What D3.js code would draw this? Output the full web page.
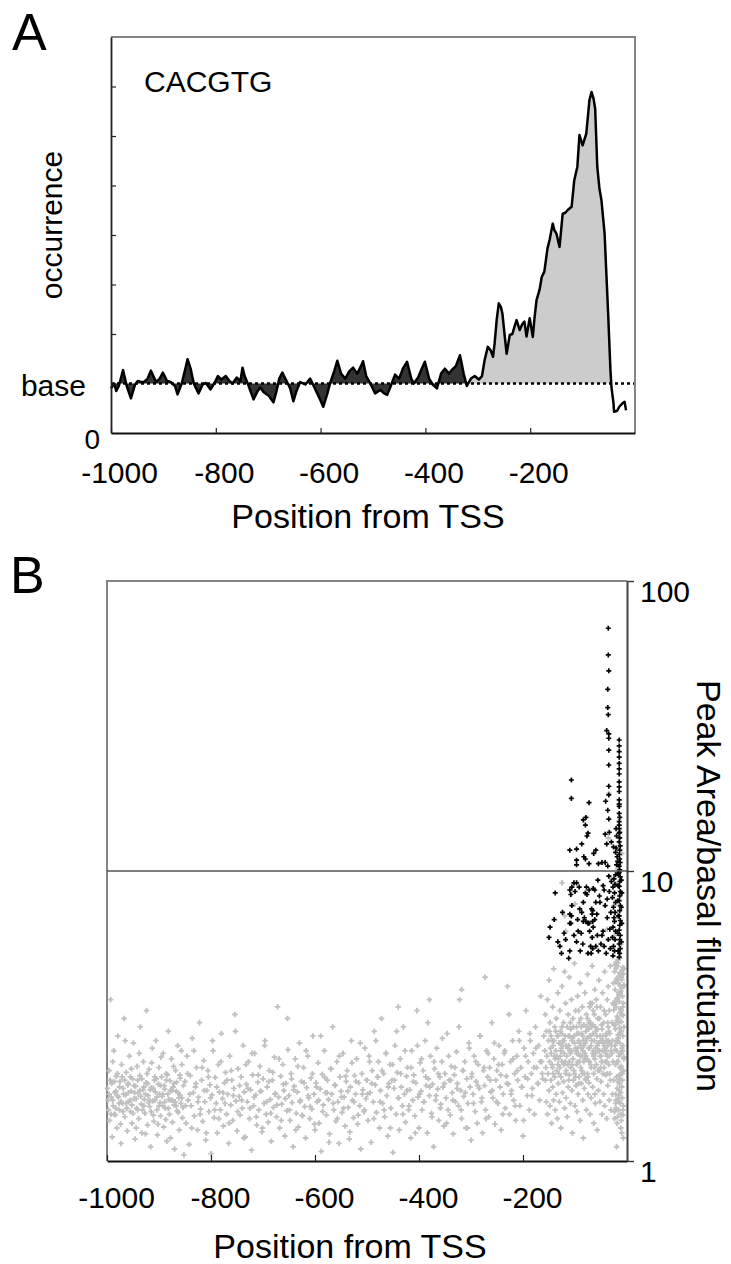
<!DOCTYPE html>
<html><head><meta charset="utf-8">
<script src="https://cdn.jsdelivr.net/npm/d3@7"></script>
<style>body{margin:0;background:#fff}svg{display:block}</style>
</head><body><svg id="c" width="731" height="1264"></svg>
<script>
// ---------- DATA ----------
const posTicks = [-1000, -800, -600, -400, -200];
const occTicks = [1, 2, 3, 4, 5, 6, 7];
const ratioTicks = [1, 10, 100];
const baseLevel = 1;
const splitPos = -321; // start of the promoter peak region
// Panel A: occurrence profile [position, occurrence (in base units)]
const profileA = [[-1000,0.9],[-994,1.0],[-990,0.85],[-985,0.95],[-977,1.27],[-970,0.95],[-962,0.7],[-954,0.98],[-949,1.05],[-943,1.03],[-937,1.03],[-930,1.1],[-924,1.26],[-914,1.03],[-907,1.1],[-901,1.22],[-893,1.05],[-886,1.03],[-878,0.95],[-873,0.78],[-865,1.0],[-857,1.35],[-854,1.49],[-848,1.3],[-842,1.0],[-833,0.8],[-825,0.98],[-819,1.01],[-810,0.88],[-802,1.02],[-796,1.15],[-789,1.08],[-781,1.15],[-774,1.05],[-768,1.0],[-760,1.12],[-753,1.05],[-749,1.32],[-745,1.15],[-739,1.0],[-734,0.85],[-728,0.68],[-720,0.85],[-715,0.92],[-709,0.83],[-699,0.75],[-690,0.62],[-684,0.85],[-679,1.1],[-673,1.22],[-665,1.05],[-658,0.9],[-652,0.64],[-646,0.85],[-639,1.03],[-629,0.98],[-620,1.1],[-610,0.88],[-602,0.7],[-595,0.53],[-587,0.8],[-582,1.0],[-574,1.25],[-568,1.46],[-561,1.2],[-553,1.1],[-545,1.25],[-538,1.32],[-530,1.2],[-523,1.35],[-519,1.45],[-513,1.15],[-505,1.0],[-496,0.8],[-486,0.87],[-479,0.8],[-473,0.77],[-466,0.95],[-458,1.18],[-450,1.1],[-443,1.3],[-435,1.44],[-427,1.1],[-422,1.0],[-414,1.12],[-407,1.3],[-401,1.44],[-393,1.1],[-386,0.98],[-378,0.9],[-370,1.2],[-363,1.3],[-355,1.2],[-350,1.27],[-342,1.35],[-334,1.57],[-327,1.2],[-321,0.95],[-313,1.1],[-306,1.15],[-298,1.08],[-292,1.15],[-287,1.47],[-281,1.74],[-275,1.66],[-271,1.54],[-268,1.8],[-264,2.28],[-260,2.62],[-256,2.55],[-253,2.41],[-249,2.0],[-245,1.6],[-239,1.98],[-234,2.0],[-230,2.15],[-226,2.28],[-220,2.08],[-215,2.2],[-211,2.25],[-207,1.95],[-201,2.32],[-195,1.94],[-192,2.3],[-188,2.68],[-182,2.9],[-178,3.15],[-173,3.26],[-167,3.73],[-163,3.9],[-157,4.23],[-154,4.1],[-150,4.03],[-144,3.76],[-138,4.43],[-133,4.45],[-129,4.5],[-121,4.57],[-116,5.1],[-110,5.38],[-106,6.02],[-100,5.81],[-93,6.05],[-87,6.72],[-83,6.89],[-79,6.75],[-76,6.55],[-72,5.38],[-68,4.95],[-64,4.7],[-58,4.03],[-55,3.3],[-51,2.35],[-47,1.3],[-45,0.93],[-41,0.6],[-40,0.43],[-34,0.45],[-30,0.53],[-24,0.6],[-20,0.63],[-17,0.46]];

// Panel B: [position, peak area / basal fluctuation]
const grayUpstream = [[-998,1.62],[-996,2.05],[-995,1.38],[-993,3.6],[-991,1.85],[-990,1.21],[-988,1.55],[-987,2.4],[-985,1.72],[-984,1.44],[-982,1.96],[-981,1.3],[-979,2.7],[-978,1.66],[-976,1.5],[-975,1.88],[-973,1.15],[-972,2.15],[-970,1.58],[-969,1.78],[-967,3.1],[-966,1.42],[-964,1.69],[-963,2.02],[-961,1.27],[-960,1.83],[-958,1.6],[-957,2.3],[-955,1.48],[-954,1.74],[-952,1.35],[-951,1.92],[-949,2.55],[-948,1.64],[-946,1.19],[-945,1.81],[-943,1.52],[-942,2.12],[-940,1.71],[-939,1.4],[-937,1.97],[-936,2.9],[-934,1.57],[-933,1.25],[-931,1.76],[-930,2.2],[-928,1.63],[-927,1.46],[-925,1.86],[-924,3.3],[-922,1.33],[-921,1.68],[-919,2.07],[-918,1.54],[-916,1.12],[-915,1.79],[-913,2.45],[-912,1.61],[-910,1.37],[-909,1.9],[-907,1.73],[-906,2.6],[-904,1.5],[-903,1.23],[-901,1.84],[-900,2.1],[-898,1.59],[-897,1.43],[-895,1.95],[-894,1.67],[-892,2.35],[-891,1.31],[-889,1.77],[-888,1.52],[-886,2.0],[-885,1.17],[-883,1.7],[-882,2.8],[-880,1.45],[-879,1.89],[-877,1.62],[-876,2.25],[-874,1.36],[-873,1.8],[-871,1.56],[-870,1.1],[-868,2.05],[-867,1.74],[-865,1.49],[-864,2.5],[-862,1.65],[-861,1.28],[-859,1.93],[-858,1.58],[-856,2.15],[-855,1.41],[-853,1.82],[-852,1.05],
[-999,1.78],[-997,1.5],[-994,1.9],[-992,1.66],[-989,2.2],[-986,1.45],[-983,1.74],[-980,2.0],[-977,1.58],[-974,1.34],[-971,1.95],[-968,1.7],[-965,2.6],[-962,1.52],[-959,1.85],[-956,1.62],[-953,2.08],[-950,1.46],[-947,1.72],[-944,1.3],[-941,1.9],[-938,2.35],[-935,1.67],[-932,1.5],[-929,1.8],[-926,1.24],[-923,2.0],[-920,1.59],[-917,1.76],[-914,2.18],[-911,1.44],[-908,1.62],[-905,1.92],[-902,1.34],[-899,1.7],[-896,2.28],[-893,1.55],[-890,1.82],[-887,1.39],[-884,1.98],[-881,1.63],[-878,1.2],[-875,1.75],[-872,2.12],[-869,1.6],[-866,1.87],[-863,1.47],[-860,1.69],[-857,2.4],[-854,1.53],
[-996,1.7],[-992,1.45],[-989,1.62],[-986,1.88],[-983,1.52],[-980,1.68],[-976,1.8],[-973,1.6],[-969,1.48],[-966,1.9],[-963,1.58],[-959,1.72],[-955,1.95],[-952,1.56],[-948,1.82],[-944,1.64],[-941,1.5],[-937,1.75],[-933,1.92],[-929,1.55],[-926,1.7],[-922,1.85],[-918,1.62],[-915,1.48],[-911,1.78],[-908,1.95],[-904,1.66],[-900,1.55],[-897,1.82],[-893,1.7],[-889,1.6],[-886,1.9],[-882,1.52],[-878,1.75],[-874,1.62],[-871,1.85],[-867,1.55],[-863,1.72],[-860,1.98],[-856,1.65],
[-850,1.88],[-848,1.35],[-846,2.3],[-844,1.62],[-842,1.14],[-840,1.97],[-838,1.55],[-836,2.65],[-834,1.72],[-832,1.43],[-830,1.8],[-828,2.1],[-826,1.28],[-824,1.66],[-822,3.0],[-820,1.51],[-818,1.9],[-816,1.37],[-814,2.22],[-812,1.6],[-810,1.18],[-808,1.75],[-806,2.05],[-804,1.48],[-802,1.83],[-800,1.06],[-798,1.69],[-796,2.4],[-794,1.41],[-792,1.94],[-790,1.58],[-788,1.25],[-786,2.15],[-784,1.73],[-782,1.5],[-780,2.75],[-778,1.64],[-776,1.32],[-774,1.86],[-772,2.02],[-770,1.45],[-768,1.7],[-766,1.15],[-764,2.3],[-762,1.56],[-760,1.9],[-758,1.38],[-756,1.78],[-754,3.2],[-752,1.61],[-750,1.27],[-748,2.08],[-746,1.67],[-744,1.44],[-742,1.95],[-740,1.52],[-738,2.5],[-736,1.73],[-734,1.21],[-732,1.84],[-730,1.6],[-728,2.2],[-726,1.4],[-724,1.76],[-722,1.09],[-720,1.98],[-718,1.55],[-716,2.35],[-714,1.69],[-712,1.33],[-710,1.87],[-708,1.5],[-706,2.12],[-704,1.74],[-702,1.26],[-700,1.92],[-698,1.58],[-696,2.6],[-694,1.45],[-692,1.8],[-690,1.36],[-688,2.05],[-686,1.63],[-684,1.17],[-682,1.9],[-680,1.53],[-678,2.28],[-676,1.71],[-674,1.42],[-672,3.4],[-670,1.66],[-668,1.3],[-666,1.96],[-664,1.57],[-662,2.15],[-660,1.75],[-658,1.22],[-656,1.85],[-654,1.49],[-652,2.42],[-650,1.68],[-648,1.38],[-646,2.0],[-644,1.59],[-642,1.12],[-640,1.81],[-638,2.25],[-636,1.46],[-634,1.73],[-632,1.31],[-630,2.55],[-628,1.62],[-626,1.88],[-624,1.43],[-622,2.1],[-620,1.54],[-618,1.2],[-616,1.79],[-614,2.3],[-612,1.65],[-610,1.4],[-608,1.93],[-606,1.51],[-604,2.7],[-602,1.7],[-600,1.28],[-598,1.86],[-596,1.6],[-594,2.18],[-592,1.35],[-590,1.77],[-588,1.08],[-586,1.99],[-584,1.56],[-582,2.4],[-580,1.72],[-578,1.44],[-576,1.9],[-574,1.63],[-572,1.24],[-570,2.08],[-568,1.7],[-566,2.9],[-564,1.5],[-562,1.83],[-560,1.37],[-558,2.2],[-556,1.6],[-554,1.15],[-552,1.95],[-550,1.74],[-548,1.47],[-546,2.35],[-544,1.66],[-542,1.32],[-540,1.88],[-538,2.05],[-536,1.53],[-534,1.19],[-532,1.8],[-530,2.6],[-528,1.62],[-526,1.41],[-524,1.97],[-522,1.7],[-520,2.25],[-518,1.34],[-516,1.86],[-514,1.55],[-512,1.1],[-510,2.0],[-508,1.76],[-506,1.48],[-504,2.45],[-502,1.64],
[-849,1.55],[-845,2.0],[-841,1.7],[-837,1.3],[-833,2.4],[-829,1.85],[-825,1.6],[-821,1.45],[-817,2.1],[-813,1.75],[-809,1.25],[-805,1.95],[-801,1.65],[-797,2.6],[-793,1.5],[-789,1.8],[-785,1.4],[-781,2.2],[-777,1.72],[-773,1.58],[-769,1.9],[-765,1.35],[-761,2.05],[-757,1.68],[-753,2.8],[-749,1.48],[-745,1.82],[-741,1.62],[-737,1.2],[-733,2.15],[-729,1.78],[-725,1.52],[-721,2.35],[-717,1.66],[-713,1.42],[-709,1.98],[-705,1.74],[-701,1.3],[-697,2.5],[-693,1.6],[-689,1.88],[-685,1.46],[-681,2.02],[-677,1.7],[-673,1.56],[-669,2.25],[-665,1.38],[-661,1.84],[-657,1.64],[-653,3.1],[-649,1.5],[-645,1.92],[-641,1.76],[-637,1.28],[-633,2.12],[-629,1.6],[-625,1.44],[-621,1.86],[-617,2.4],[-613,1.68],[-609,1.54],[-605,2.0],[-601,1.34],[-597,1.8],[-593,1.62],[-589,2.7],[-585,1.48],[-581,1.94],[-577,1.72],[-573,1.16],[-569,2.08],[-565,1.58],[-561,1.82],[-557,1.4],[-553,2.3],[-549,1.66],[-545,1.52],[-541,1.96],[-537,1.74],[-533,1.26],[-529,2.18],[-525,1.6],[-521,1.88],[-517,1.44],[-513,2.55],[-509,1.7],[-505,1.5],[-501,1.9]];

const grayMiddle = [[-500,1.9],[-498,1.38],[-496,2.3],[-494,1.72],[-492,1.16],[-490,2.05],[-488,1.6],[-486,2.8],[-484,1.83],[-482,1.47],[-480,1.95],[-478,2.2],[-476,1.3],[-474,1.75],[-472,3.1],[-470,1.58],[-468,2.0],[-466,1.42],[-464,2.35],[-462,1.68],[-460,1.22],[-458,1.85],[-456,2.15],[-454,1.52],[-452,1.9],[-450,1.07],[-448,1.78],[-446,2.5],[-444,1.45],[-442,2.02],[-440,1.65],[-438,1.28],[-436,2.25],[-434,1.8],[-432,1.55],[-430,2.9],[-428,1.7],[-426,1.36],[-424,1.96],[-422,2.1],[-420,1.5],[-418,1.76],[-416,1.2],[-414,2.4],[-412,1.62],[-410,1.98],[-408,1.43],[-406,1.86],[-404,3.3],[-402,1.66],[-400,1.3],[-398,2.18],[-396,1.74],[-394,1.5],[-392,2.05],[-390,1.6],[-388,2.6],[-386,1.82],[-384,1.25],[-382,1.92],[-380,1.68],[-378,2.3],[-376,1.46],[-374,1.84],[-372,1.12],[-370,2.08],[-368,1.62],[-366,2.45],[-364,1.77],[-362,1.38],[-360,1.95],[-358,1.57],[-356,2.2],[-354,1.8],[-352,1.32],[-350,2.0],[-348,1.65],[-346,2.75],[-344,1.5],[-342,1.9],[-340,1.44],[-338,2.12],[-336,1.72],[-334,1.24],[-332,1.98],[-330,1.6],[-328,2.38],[-326,1.85],[-324,1.55],[-322,3.6],[-320,1.75],[-318,1.4],[-316,2.05],[-314,1.67],[-312,2.2],[-310,1.3],[-308,1.92],[-306,1.58],[-304,2.55],[-302,1.8],[-300,1.18],[-298,2.0],[-296,1.7],[-294,2.3],[-292,1.48],[-290,1.88],[-288,1.35],[-286,2.15],[-284,1.78],[-282,2.7],[-280,1.6],[-278,1.25],[-276,2.05],[-274,1.82],[-272,1.5],[-270,2.4],[-268,1.95],[-266,1.42],[-264,2.1],[-262,1.73],[-260,3.0],[-258,1.65],[-256,2.25],[-254,1.34],[-252,1.9],[-250,2.05],[-248,1.58],[-246,2.5],[-244,1.8],[-242,1.28],[-240,2.15],[-238,1.7],[-236,2.35],[-234,1.52],[-232,1.96],[-230,4.0],[-228,1.84],[-226,1.45],[-224,2.2],[-222,1.75],[-220,2.6],[-218,1.62],[-216,2.0],[-214,1.38],[-212,2.3],[-210,1.9],[-208,2.8],[-206,1.55],[-204,2.1],[-202,1.8],[-200,1.22],[-198,2.45],[-196,1.95],[-194,3.3],[-192,1.68],[-190,2.2],[-188,1.5],[-186,2.6],[-184,2.0],[-182,1.78],[-180,2.35],[-178,1.45],[-176,2.9],[-174,2.1],[-172,1.85],[-170,2.5],[-168,1.62],[-166,3.7],[-164,2.2],[-162,1.92],[-160,2.7],[-273,4.3],[-318,3.9],[-380,3.6],[-440,3.4],
[-499,1.7],[-495,2.2],[-491,1.85],[-487,1.4],[-483,2.6],[-479,1.95],[-475,1.6],[-471,2.05],[-467,1.5],[-463,2.35],[-459,1.8],[-455,1.3],[-451,2.15],[-447,1.9],[-443,2.8],[-439,1.65],[-435,2.0],[-431,1.45],[-427,2.4],[-423,1.75],[-419,1.55],[-415,2.1],[-411,1.88],[-407,1.25],[-403,2.5],[-399,1.7],[-395,2.25],[-391,1.6],[-387,1.95],[-383,3.0],[-379,1.8],[-375,1.42],[-371,2.2],[-367,1.68],[-363,2.0],[-359,1.52],[-355,2.65],[-351,1.85],[-347,1.35],[-343,2.3],[-339,1.9],[-335,1.62],[-331,2.1],[-327,1.78],[-323,2.9],[-319,1.5],[-315,2.05],[-311,1.72],[-307,1.3],[-303,2.45],[-299,1.95],[-295,1.58],[-291,2.2],[-287,1.82],[-283,2.7],[-279,1.65],[-275,2.1],[-271,1.4],[-267,2.35],[-263,1.9],[-259,1.75],[-255,2.55],[-251,1.6],[-247,2.15],[-243,1.98],[-239,1.45],[-235,2.4],[-231,1.85],[-227,3.2],[-223,1.7],[-219,2.25],[-215,1.55],[-211,2.05],[-207,2.6],[-203,1.8],[-199,1.38],[-195,2.3],[-191,1.92],[-187,2.75],[-183,1.68],[-179,2.1],[-175,2.45],[-171,1.85],[-167,2.2],[-163,2.0]];

const grayProximal = [[-158,2.4],[-157,1.9],[-157,3.2],[-156,2.1],[-155,1.6],[-155,2.8],[-154,2.3],[-153,1.45],[-153,3.6],[-152,2.0],[-151,2.6],[-150,1.75],[-150,4.2],[-149,2.2],[-148,1.55],[-148,3.0],[-147,2.45],[-146,1.9],[-146,2.7],[-145,1.35],[-144,2.15],[-143,3.4],[-143,1.8],[-142,2.5],[-141,1.62],[-141,4.6],[-140,2.3],[-139,1.95],[-139,2.9],[-138,1.5],[-137,2.4],[-136,3.1],[-136,1.7],[-135,2.05],[-134,2.7],[-134,1.4],[-133,3.8],[-132,2.25],[-132,1.85],[-131,2.55],[-130,1.6],[-129,3.3],[-129,2.1],[-128,2.8],[-127,1.95],[-127,1.3],[-126,2.45],[-125,4.0],[-125,2.2],[-124,1.72],[-123,2.6],[-122,3.0],[-122,1.88],[-121,2.35],[-120,1.52],[-120,4.5],[-119,2.7],[-118,2.0],[-118,3.5],[-117,1.65],[-116,2.3],[-115,2.9],[-115,1.42],[-114,2.15],[-113,3.2],[-113,1.8],[-112,2.5],[-111,1.98],[-111,4.3],[-110,2.4],[-109,1.58],[-108,2.85],[-108,2.1],[-107,3.6],[-106,1.75],[-106,2.6],[-105,1.25],[-104,2.25],[-104,3.1],[-103,1.9],[-102,2.7],[-101,2.0],[-101,4.8],[-100,1.55],[-99,2.45],[-99,3.3],[-98,1.82],[-97,2.9],[-97,2.15],[-96,1.48],[-95,3.7],[-94,2.35],[-94,1.7],[-93,2.6],[-92,1.95],[-92,3.0],[-91,2.2],[-90,1.38],[-90,4.1],[-89,2.5],[-88,1.85],[-87,2.75],[-87,2.05],[-86,3.4],[-85,1.62],[-85,2.4],[-84,1.2],[-83,2.95],[-83,2.2],[-82,1.78],[-81,3.8],[-80,2.55],[-80,1.92],[-79,2.3],[-78,1.5],[-78,3.2],[-77,2.65],[-76,2.0],[-76,4.4],[-75,1.7],[-74,2.45],[-73,3.0],[-73,1.86],[-72,2.2],[-71,1.45],[-71,3.5],[-70,2.7],[-69,2.1],[-69,1.65],[-68,2.9],[-67,4.7],[-66,2.35],[-66,1.8],[-65,3.3],[-64,2.0],[-64,1.35],[-63,2.6],[-62,3.9],[-62,2.25],[-61,1.58],[-60,2.8],[-59,2.15],[-59,3.6],[-58,1.92],[-57,2.5],[-57,1.28],[-56,3.1],[-55,2.4],[-55,1.75],[-54,4.2],[-53,2.05],[-52,2.7],[-52,1.6],[-51,3.4],[-50,2.3],[-50,1.88],[-49,2.95],[-48,1.45],[-48,2.2],[-47,3.8],[-46,2.6],[-45,1.7],[-45,3.0],[-44,2.1],[-43,4.5],[-43,1.55],[-42,2.45],[-41,3.2],[-41,1.98],[-40,2.75],[-39,1.4],[-38,3.6],[-38,2.3],[-37,1.82],[-36,2.9],[-36,4.0],[-35,2.15],[-34,1.62],[-34,3.3],[-33,2.55],[-32,1.9],[-32,4.7],[-31,2.4],[-31,1.5],
[-140,2.6],[-135,2.3],[-131,2.0],[-126,2.75],[-121,2.15],[-117,2.5],[-112,1.9],[-109,2.35],[-105,2.65],[-102,2.05],[-98,2.4],[-95,2.2],[-93,1.85],[-91,2.55],[-89,2.1],[-86,2.3],[-84,2.6],[-82,2.0],[-79,2.8],[-77,2.25],[-75,1.95],[-73,2.45],[-70,2.15],[-68,2.6],[-66,2.95],[-64,2.3],[-62,1.7],[-60,2.45],[-58,2.7],[-56,2.05],[-54,2.55],[-52,2.3],[-50,2.6],[-48,2.85],[-46,2.0],[-44,2.5],[-42,2.2],[-40,2.4],[-38,2.0],[-36,2.6],[-34,2.3],[-33,2.0],[-35,2.8],[-37,2.5],[-39,2.2],[-41,2.7],[-44,3.3],[-47,2.4],[-51,2.1],[-53,3.1],[-56,2.55],[-58,3.4],[-61,2.9],[-63,3.2],[-65,2.4],[-67,3.5],[-70,3.0],[-72,3.4],[-74,2.85],[-76,3.1],[-79,1.9],[-81,2.25],[-83,2.5],[-86,2.0],[-88,2.9],[-90,2.3],[-93,3.3],[-96,2.75],[-99,1.95],[-103,2.9],[-107,2.4],[-110,2.7],[-114,2.45],[-119,2.2],[-124,2.5],[-128,2.3],[-133,2.7],[-138,2.25],[-144,2.6],[-149,2.8],
[-146,2.35],[-142,2.0],[-137,2.8],[-133,2.15],[-129,2.55],[-125,2.9],[-121,2.6],[-117,2.05],[-113,2.7],[-109,3.0],[-105,2.15],[-101,2.55],[-97,2.35],[-93,2.75],[-89,3.1],[-85,2.7],[-81,2.35],[-77,2.9],[-73,2.2],[-69,2.5],[-65,2.75],[-61,2.35],[-57,2.85],[-53,2.4],[-49,2.2],[-45,2.55],[-41,2.35],[-37,3.0],[-33,2.75],[-30,2.5],[-143,2.1],[-127,2.4],[-111,2.2],[-95,2.45],[-79,2.6],[-63,2.1],[-47,2.7],[-39,2.6],[-88,2.45],[-72,2.7]];

const grayEdge = [[-24,1.4],[-21,1.52],[-18,1.63],[-15,1.75],[-12,1.45],[-9,1.9],[-7,2.05],[-22,1.58],[-19,2.2],[-16,1.68],[-13,2.35],[-10,1.8],[-8,2.5],[-20,1.95],[-17,2.65],[-14,2.1],[-11,2.8],[-6,2.25],[-23,2.95],[-20,2.4],[-17,3.1],[-14,2.55],[-11,3.3],[-8,2.7],[-25,3.45],[-22,2.85],[-19,3.6],[-16,3.0],[-13,3.8],[-10,3.2],[-7,4.0],[-21,3.4],[-18,4.2],[-15,3.55],[-12,4.4],[-9,3.7],[-6,4.6],[-23,3.9],[-20,4.8],[-17,4.1],[-14,5.0],[-11,4.3],[-8,1.5],[-24,4.5],[-21,1.62],[-18,4.7],[-15,1.85],[-12,1.72],[-9,2.0],[-7,1.55],[-22,2.15],[-19,1.78],[-16,2.3],[-13,1.92],[-10,2.45],[-8,2.05],[-20,2.6],[-17,2.2],[-14,2.75],[-11,2.35],[-6,2.9],[-23,2.5],[-20,3.05],[-17,2.65],[-14,3.25],[-11,2.8],[-8,3.4],[-25,2.95],[-22,3.55],[-19,3.15],[-16,3.75],[-13,3.35],[-10,3.95],[-7,3.5],[-21,4.15],[-18,3.65],[-15,4.35],[-12,3.85],[-9,4.55],[-6,4.05],[-23,4.75],[-20,4.25],[-17,4.95],[-14,4.45],[-11,1.38],[-8,4.65],[-24,1.48],[-21,4.85],[-18,1.42],[-15,1.6],[-12,1.3],[-9,1.65],[-7,1.2],[-22,1.7],[-19,1.35],[-16,1.5],[-13,1.58],[-10,1.25],[-8,1.44],[-20,1.12],[-17,1.88],[-14,1.98],[-11,2.12],[-6,2.28],[-23,2.42],[-20,2.58],[-17,2.72],[-14,2.88],[-11,3.02],[-8,3.18],[-25,3.32],[-22,3.48],[-19,3.62],[-16,3.82],[-13,4.02],[-10,4.22],[-7,4.42],[-21,4.62],[-18,4.82],[-15,5.02],[-12,2.0],[-9,2.4],[-27,2.2],[-28,2.6],[-26,1.9],[-29,3.0],[-27,3.5],[-26,4.1],[-28,1.7],[-29,2.35],
[-35,18.5],[-32,9.5],[-18,10.2],[-20,9.0],[-13,8.3],[-25,7.6],[-10,11.5],[-38,6.3],[-125,9.1],[-120,7.0],[-118,6.2],[-100,7.7],[-36,13.0],[-24,6.0],[-12,5.6]];

const blackPoints = [[-36,68.7],[-36,55.6],[-35,49],[-37,42.3],[-37,36.6],[-36,34.6],[-39,30.5],[-35,29.7],[-35,28.7],[-15,28.3],[-35,26.1],[-15,24.7],[-35,23.2],[-15,21.6],[-107,20.6],[-15,20.3],[-35,19.6],[-15,18.8],[-107,17.8],[-35,18.3],[-73,17.2],[-41,17.4],[-15,17.6],[-37,16.2],[-15,16.7],[-15,15.8],[-84,15.0],[-79,15.3],[-80,14.4],[-35,15.1],[-21,14.0],[-15,14.8],[-15,14.0],[-15,13.5],[-42,13.4],[-77,13.2],[-39,12.4],[-26,12.1],[-87,12.4],[-110,11.8],[-97,11.9],[-97,10.9],[-97,10.5],[-83,11.2],[-80,11.0],[-73,10.6],[-42,10.7],[-37,10.4],
[-15,27],[-15,25.8],[-15,23.5],[-15,22.5],[-15,19.5],[-15,17.0],[-14,15.3],[-15,14.4],[-14,13.6],[-14,13.0],[-15,12.6],[-13,12.2],[-14,11.8],[-15,11.4],[-14,11.0],[-13,10.7],[-15,10.4],[-14,10.1],[-20,13.2],[-21,12.0],[-19,11.2],[-20,10.5],[-22,11.6],[-18,10.8],[-16,9.8],[-75,13.5],[-60,11.8],[-64,11.5],[-55,10.6],[-48,10.7],[-34,13.6],[-30,12.6],
[-138,8.4],[-108,8.3],[-97,9.1],[-92,8.8],[-100,8.5],[-80,8.4],[-73,8.6],[-65,8.7],[-110,7.1],[-107,7.0],[-91,7.4],[-84,7.8],[-82,6.9],[-67,7.1],[-148,6.4],[-110,6.6],[-79,6.7],[-73,6.6],[-65,6.4],[-58,7.1],[-102,6.0],[-88,6.1],[-67,5.9],[-110,8.6],[-106,8.8],[-102,9.1],[-78,8.8],[-77,8.3],[-62,8.6],[-52,7.8],[-46,8.9],[-44,8.6],[-106,7.6],[-87,7.2],[-68,7.4],[-66,7.3],[-84,6.7],[-108,6.6],[-75,6.6],[-66,6.7],[-94,6.2],[-97,5.7],[-129,5.5],[-110,5.3],[-112,5.0],[-126,5.2],[-75,5.2],[-69,5.2],[-66,5.4],[-50,5.6],[-48,6.0],[-46,6.2],
[-27,5.1],[-26,5.5],[-28,5.9],[-27,6.4],[-25,6.9],[-26,7.5],[-28,8.1],[-27,8.8],[-25,9.4],[-24,5.3],[-23,5.8],[-22,6.2],[-24,6.7],[-23,7.2],[-22,7.8],[-24,8.4],[-23,9.0],[-22,9.7],[-15,5.05],[-14,5.2],[-13,5.4],[-15,5.6],[-14,5.8],[-13,6.0],[-15,6.25],[-14,6.5],[-13,6.75],[-15,7.0],[-14,7.3],[-13,7.6],[-15,7.9],[-14,8.2],[-13,8.5],[-15,8.85],[-14,9.2],[-13,9.55],[-15,9.9],[-17,5.3],[-18,6.1],[-17,7.0],[-18,7.9],[-17,8.9],[-18,9.8],[-11,5.7],[-10,6.6],[-11,7.5],[-10,8.4],[-11,9.3],[-32,5.4],[-33,6.3],[-31,7.2],[-34,8.5],[-36,5.8],[-38,6.9],[-40,5.2],[-42,7.6],[-44,5.5],[-55,5.3],[-57,6.0],[-60,5.5],[-62,6.8],[-70,5.5],[-72,6.2],[-85,5.6],[-90,5.3],[-95,6.8],[-118,5.8],[-121,6.1],[-124,7.2],[-133,5.7],[-140,6.8],[-150,5.9],[-56,9.3],[-53,8.2],[-60,7.8],[-35,9.6],[-38,8.0],[-30,9.2]];

// ---------- DRAW ----------
const FONT = '"Liberation Sans", Arial, Helvetica, sans-serif';
const svg = d3.select('#c').attr('font-family', FONT);
const FRAME = '#858585';

// ===== Panel A =====
const xA = d3.scaleLinear().domain([-1000, 0]).range([111, 635]);
const yA = d3.scaleLinear().domain([0, 8]).range([433, 37]);
const darkPart = profileA.filter(d => d[0] <= splitPos);
const lightPart = profileA.filter(d => d[0] >= splitPos);

svg.append('path').datum(darkPart)
  .attr('d', d3.area().x(d => xA(d[0])).y0(yA(baseLevel)).y1(d => yA(d[1])))
  .attr('fill', '#333');
svg.append('path').datum(lightPart)
  .attr('d', d3.area().x(d => xA(d[0])).y0(yA(baseLevel)).y1(d => yA(Math.max(d[1], baseLevel))))
  .attr('fill', '#cccccc');
svg.append('line')
  .attr('x1', xA(-1000)).attr('x2', xA(0)).attr('y1', yA(baseLevel)).attr('y2', yA(baseLevel))
  .attr('stroke', '#000').attr('stroke-width', 2.5).attr('stroke-dasharray', '3,3');
svg.append('path').datum(profileA)
  .attr('d', d3.line().x(d => xA(d[0])).y(d => yA(d[1])))
  .attr('fill', 'none').attr('stroke', '#000').attr('stroke-width', 2.5).attr('stroke-linejoin', 'round');

// frame
svg.append('path').attr('d', `M${xA(-1000)},${yA(8)}H${xA(0)}V${yA(0)}`)
  .attr('fill', 'none').attr('stroke', FRAME).attr('stroke-width', 2);

const gyA = svg.append('g').attr('transform', `translate(${xA(-1000)},0)`)
  .call(d3.axisLeft(yA).tickValues(occTicks).tickSizeInner(-5).tickSizeOuter(0).tickFormat(''));
gyA.select('.domain').attr('stroke', '#222').attr('stroke-width', 1.8);
gyA.selectAll('.tick line').attr('stroke', '#222').attr('stroke-width', 1.2);

const gxA = svg.append('g').attr('transform', `translate(0,${yA(0)})`)
  .call(d3.axisBottom(xA).tickValues(posTicks).tickSizeInner(-5).tickSizeOuter(0).tickFormat(d => String(d)));
gxA.attr('font-size', 30).attr('font-family', FONT);
gxA.select('.domain').attr('stroke', '#111').attr('stroke-width', 1.8);
gxA.selectAll('.tick line').attr('stroke', '#222').attr('stroke-width', 1.2);
gxA.selectAll('.tick text').attr('y', 50).attr('dy', null).attr('dx', 8).attr('fill', '#000');

svg.append('text').text('0').attr('x', 100).attr('y', yA(0) + 16)
  .attr('text-anchor', 'end').attr('font-size', 28);
svg.append('text').text('base').attr('x', 86).attr('y', yA(baseLevel) + 12)
  .attr('text-anchor', 'end').attr('font-size', 30);
svg.append('text').text('occurrence')
  .attr('transform', 'translate(62,225) rotate(-90)')
  .attr('text-anchor', 'middle').attr('font-size', 30);
svg.append('text').text('CACGTG').attr('x', 144).attr('y', 92).attr('font-size', 30);
svg.append('text').text('Position from TSS').attr('x', 368).attr('y', 528)
  .attr('text-anchor', 'middle').attr('font-size', 34);
svg.append('text').text('A').attr('x', 12).attr('y', 50).attr('font-size', 52);

// ===== Panel B =====
const xB = d3.scaleLinear().domain([-1000, 0]).range([107, 627]);
const yB = d3.scaleLog().domain([1, 100]).range([1161, 581]);

svg.append('path').attr('d', `M${xB(-1000)},${yB(1)}V${yB(100)}H${xB(0)}`)
  .attr('fill', 'none').attr('stroke', FRAME).attr('stroke-width', 2);

const grayAll = grayUpstream.concat(grayMiddle, grayProximal, grayEdge);
svg.append('g').selectAll('path').data(grayAll).join('path')
  .attr('transform', d => `translate(${xB(d[0])},${yB(d[1])})`)
  .attr('d', d3.symbol().type(d3.symbolCross).size(17)()).attr('fill', '#c0c0c0');
svg.append('g').selectAll('path').data(blackPoints).join('path')
  .attr('transform', d => `translate(${xB(d[0])},${yB(d[1])})`)
  .attr('d', d3.symbol().type(d3.symbolCross).size(14)()).attr('fill', '#000');

// threshold line at 10
svg.append('line').attr('x1', xB(-1000)).attr('x2', xB(0)).attr('y1', yB(10)).attr('y2', yB(10))
  .attr('stroke', '#555').attr('stroke-width', 1.4);

const gxB = svg.append('g').attr('transform', `translate(0,${yB(1)})`)
  .call(d3.axisBottom(xB).tickValues(posTicks).tickSizeInner(-6).tickSizeOuter(0).tickFormat(d => String(d)));
gxB.attr('font-size', 30).attr('font-family', FONT);
gxB.select('.domain').attr('stroke', '#111').attr('stroke-width', 1.8);
gxB.selectAll('.tick line').attr('stroke', '#222').attr('stroke-width', 1.2);
gxB.selectAll('.tick text').attr('y', 47).attr('dy', null).attr('dx', 9).attr('fill', '#000');

const gyB = svg.append('g').attr('transform', `translate(${xB(0)},0)`)
  .call(d3.axisRight(yB).tickValues(ratioTicks).tickSizeInner(7).tickSizeOuter(0).tickFormat(d => String(d)));
gyB.attr('font-size', 30).attr('font-family', FONT);
gyB.select('.domain').attr('stroke', '#444').attr('stroke-width', 2);
gyB.selectAll('.tick line').attr('stroke', '#333').attr('stroke-width', 1.4);
gyB.selectAll('.tick text').attr('x', 13).attr('dy', null).attr('y', 20).attr('fill', '#000');

svg.append('text').text('Peak Area/basal fluctuation')
  .attr('transform', 'translate(697,886) rotate(90)')
  .attr('text-anchor', 'middle').attr('font-size', 34);
svg.append('text').text('Position from TSS').attr('x', 350).attr('y', 1258)
  .attr('text-anchor', 'middle').attr('font-size', 34);
svg.append('text').text('B').attr('x', 10).attr('y', 593).attr('font-size', 52);
</script>
</body></html>
